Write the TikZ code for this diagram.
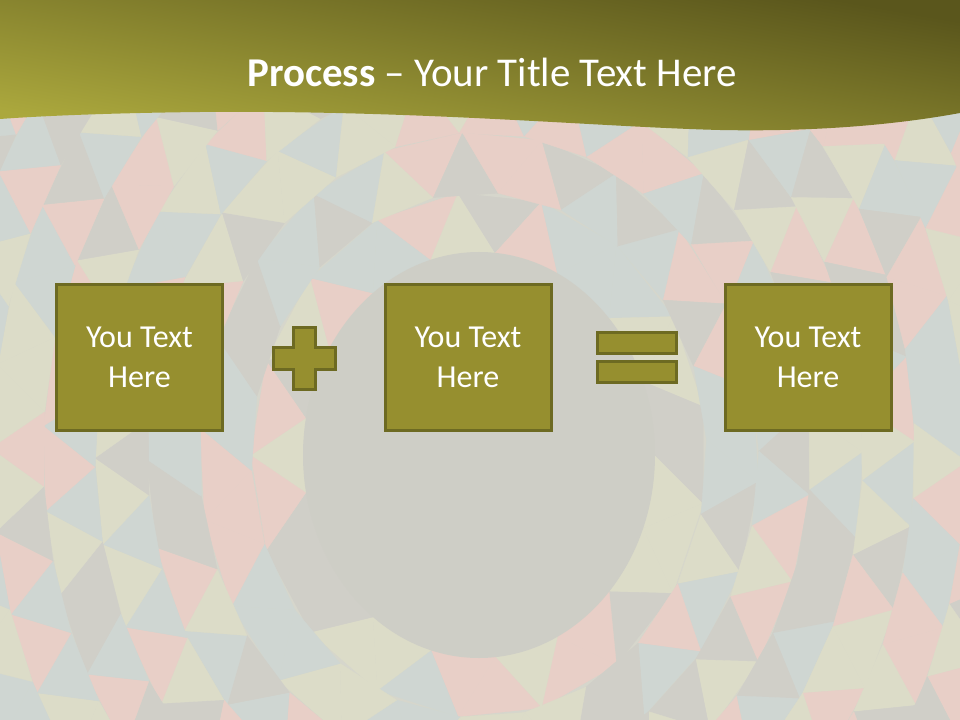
\documentclass[tikz,border=0pt]{standalone}
\usepackage{fontspec}
\setmainfont{Carlito}
\definecolor{bgbase}{HTML}{D6D6CC}
\definecolor{tgray}{HTML}{D0CFC8}
\definecolor{tblue}{HTML}{CFD6D2}
\definecolor{tpink}{HTML}{E8CFC7}
\definecolor{tcream}{HTML}{DCDCC8}
\definecolor{circfill}{HTML}{CECEC6}
\definecolor{boxfill}{HTML}{968F2F}
\definecolor{boxline}{HTML}{6D6A22}
\definecolor{headdark}{HTML}{5A561C}
\definecolor{headlight}{HTML}{ABA83D}
\tikzset{
  tri1/.style={fill=tgray,draw=tgray,line width=0.3pt},
  tri2/.style={fill=tblue,draw=tblue,line width=0.3pt},
  tri3/.style={fill=tpink,draw=tpink,line width=0.3pt},
  tri4/.style={fill=tcream,draw=tcream,line width=0.3pt},
  textbox/.style={rectangle,fill=boxfill,draw=boxline,line width=2.25pt,
    minimum width=124.5pt,minimum height=109.5pt,inner sep=0pt,
    align=center,text=white,font=\fontsize{24}{30}\selectfont},
  opshape/.style={fill=boxfill,draw=boxline,line width=2.25pt,line join=miter},
  titletext/.style={text=white,inner sep=0pt,anchor=base,font=\fontsize{30.7}{36}\selectfont}
}
\begin{document}
\begin{tikzpicture}[x=0.75pt,y=-0.75pt]
\useasboundingbox (0,0) rectangle (960,720);
\begin{scope}
\clip (0,0) rectangle (960,720);
\fill[bgbase] (0,0) rectangle (960,720);
\pgfmathsetseed{11}
\foreach \i in {0,...,11} {
  \pgfmathsetmacro\ra{176+52*\i}
  \pgfmathsetmacro\rb{\ra+52}
  \pgfmathtruncatemacro\N{max(14,round(\ra/10.5))}
  \pgfmathsetmacro\st{360/\N}
  \pgfmathsetmacro\off{\i*13}
  \pgfmathtruncatemacro\Nm{\N-1}
  \foreach \j in {0,...,\Nm} {
    \pgfmathsetmacro\aa{\off+\j*\st}
    \pgfmathsetmacro\ab{\aa+\st/2}
    \pgfmathsetmacro\ac{\aa+\st}
    \pgfmathsetmacro\ad{\ab+\st}
    \pgfmathrandominteger{\ka}{1}{4}
    \pgfmathrandominteger{\kb}{1}{4}
    \fill[tri\ka] ({479+\ra*cos(\aa)},{455+1.153*\ra*sin(\aa)})
      -- ({479+\rb*cos(\ab)},{455+1.153*\rb*sin(\ab)})
      -- ({479+\ra*cos(\ac)},{455+1.153*\ra*sin(\ac)}) -- cycle;
    \fill[tri\kb] ({479+\rb*cos(\ab)},{455+1.153*\rb*sin(\ab)})
      -- ({479+\ra*cos(\ac)},{455+1.153*\ra*sin(\ac)})
      -- ({479+\rb*cos(\ad)},{455+1.153*\rb*sin(\ad)}) -- cycle;
  }
}
\fill[circfill] (479,455) ellipse [x radius=176, y radius=203];
% header band
\shade[top color=headdark,bottom color=headlight,shading angle=-10]
  (0,0) -- (960,0) -- (960,113)
  .. controls (900,124) and (820,132) .. (720,130)
  .. controls (600,127) and (420,110) .. (200,112)
  .. controls (110,113) and (40,116) .. (0,119) -- cycle;
\end{scope}
\node[titletext] (title) at (492,87) {\textbf{Process} – Your Title Text Here};
% boxes
\node[textbox] (b1) at (139.5,357.5) {You Text\\Here};
\node[textbox] (b2) at (468,357.5) {You Text\\Here};
\node[textbox] (b3) at (808,357.5) {You Text\\Here};
% plus sign
\draw[opshape] (293,327) -- (315,327) -- (315,347) -- (335,347) -- (335,369)
  -- (315,369) -- (315,389) -- (293,389) -- (293,369) -- (273,369)
  -- (273,347) -- (293,347) -- cycle;
% equals sign
\draw[opshape] (597,332) rectangle (676,353);
\draw[opshape] (597,361) rectangle (676,382);
\end{tikzpicture}
\end{document}
